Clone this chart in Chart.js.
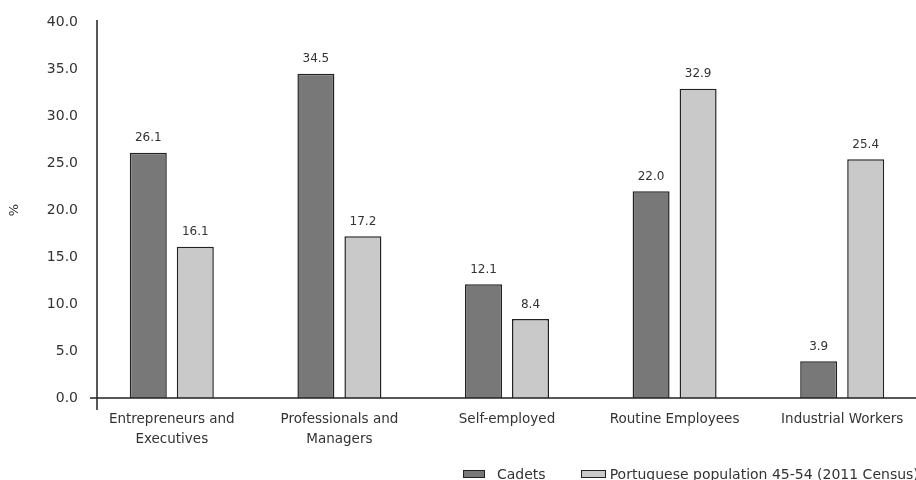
<!DOCTYPE html>
<html>
<head>
<meta charset="utf-8">
<script src="https://cdn.jsdelivr.net/npm/chart.js@4.4.1/dist/chart.umd.min.js"></script>
<style>
  html, body { margin: 0; padding: 0; background: #fff; overflow: hidden; }
  #wrap { position: relative; width: 930px; height: 480px; }
  #legend { position: absolute; left: 463px; top: 466px; display: flex; align-items: center;
            font: 14px "DejaVu Sans", sans-serif; color: #333; white-space: nowrap; }
  #legend .box { display: inline-block; height: 6px; border: 1.5px solid #222; }
</style>
</head>
<body>
<div id="wrap">
  <canvas id="chart"></canvas>
  <div id="legend"></div>
</div>
<script>
const categories = [["Entrepreneurs and", "Executives"], ["Professionals and", "Managers"], "Self-employed", "Routine Employees", "Industrial Workers"]
const cadets = [26.1, 34.5, 12.1, 22.0, 3.9]
const population = [16.1, 17.2, 8.4, 32.9, 25.4]
const seriesNames = ["Cadets", "Portuguese population 45-54 (2011 Census)"]
const yTicks = [0, 5, 10, 15, 20, 25, 30, 35, 40]

const font = '"DejaVu Sans", sans-serif'
const textColor = '#333'

// value labels above each bar
const valueLabels = {
    id: 'valueLabels',
    afterDatasetsDraw(chart) {
        const ctx = chart.ctx
        ctx.save()
        ctx.font = `12px ${font}`
        ctx.fillStyle = textColor
        ctx.textAlign = 'center'
        ctx.textBaseline = 'middle'
        chart.data.datasets.forEach((ds, di) => {
            chart.getDatasetMeta(di).data.forEach((bar, i) => {
                ctx.fillText(ds.data[i].toFixed(1), bar.x, bar.y - 14.5)
            })
        })
        ctx.restore()
    }
}

// axis lines that cross a bit past each other
const axisLines = {
    id: 'axisLines',
    afterDatasetsDraw(chart) {
        const ctx = chart.ctx
        const y = chart.scales.y
        const area = chart.chartArea
        const zero = y.getPixelForValue(0)
        const axisX = area.left + 9
        ctx.save()
        ctx.strokeStyle = '#222'
        ctx.lineWidth = 1.5
        ctx.beginPath()
        ctx.moveTo(axisX, y.getPixelForValue(40) - 2)
        ctx.lineTo(axisX, zero + 12)
        ctx.moveTo(axisX - 7, zero)
        ctx.lineTo(chart.width, zero)
        ctx.stroke()
        ctx.restore()
    }
}

const chart = new Chart(document.getElementById('chart'), {
    type: 'bar',
    data: {
        labels: categories,
        datasets: [{
            label: seriesNames[0],
            data: cadets,
            backgroundColor: '#787878',
            borderColor: '#222',
            borderWidth: 1.5
        }, {
            label: seriesNames[1],
            data: population,
            backgroundColor: '#c9c9c9',
            borderColor: '#222',
            borderWidth: 1.5
        }]
    },
    options: {
        responsive: true,
        maintainAspectRatio: false,
        animation: false,
        categoryPercentage: 0.561,
        barPercentage: 0.787,
        layout: { padding: { left: 3, right: 4, top: 22, bottom: 0 } },
        plugins: {
            legend: { display: false },
            tooltip: { enabled: false }
        },
        scales: {
            x: {
                grid: { display: false, drawTicks: false },
                border: { display: false },
                ticks: {
                    padding: 11,
                    maxRotation: 0,
                    autoSkip: false,
                    color: textColor,
                    font: { family: font, size: 13.5, lineHeight: 1.5 }
                },
                afterFit(scale) { scale.height = 82 }
            },
            y: {
                min: 0,
                max: 40,
                grid: { display: false, drawTicks: false },
                border: { display: false },
                afterBuildTicks(scale) { scale.ticks = yTicks.map(v => ({ value: v })) },
                ticks: {
                    padding: 10,
                    color: textColor,
                    font: { family: font, size: 14 },
                    callback: v => v.toFixed(1)
                },
                title: {
                    display: true,
                    text: '%',
                    color: textColor,
                    font: { family: font, size: 13 },
                    padding: 4
                },
                afterFit(scale) { scale.width = 85 }
            }
        }
    },
    plugins: [valueLabels, axisLines]
})

// legend built from the datasets
const legend = document.getElementById('legend')
const boxWidths = [20, 23]
const gaps = [12, 4]
chart.data.datasets.forEach((ds, i) => {
    const box = document.createElement('span')
    box.classList.add('box')
    box.style.width = boxWidths[i] + 'px'
    box.style.background = ds.backgroundColor
    box.style.marginRight = gaps[i] + 'px'
    if (i > 0) box.style.marginLeft = '35px'
    const text = document.createElement('span')
    text.innerText = ds.label
    legend.appendChild(box)
    legend.appendChild(text)
})
</script>
</body>
</html>
